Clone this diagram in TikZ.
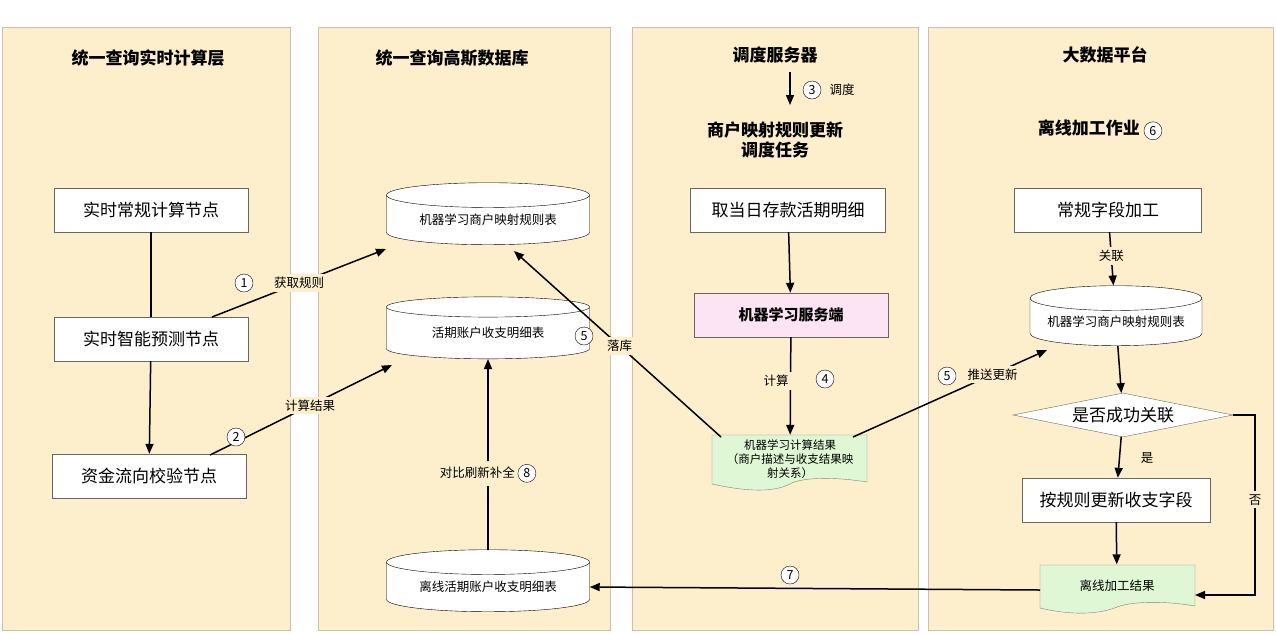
\documentclass[tikz,border=0pt]{standalone}
\usepackage{fontspec}
\setmainfont{Noto Sans CJK SC}
\usetikzlibrary{shapes.geometric,arrows.meta}
\definecolor{lane}{HTML}{FDEFCB}
\definecolor{laneb}{HTML}{C8C0B0}
\definecolor{pinkf}{HTML}{FCE4F4}
\definecolor{greenf}{HTML}{DFF7D4}
\begin{document}
\begin{tikzpicture}[x=1pt,y=-1pt,
  lanebox/.style={fill=lane,draw=laneb,line width=0.8pt},
  title/.style={font=\fontsize{17}{20}\selectfont\bfseries,align=center},
  box/.style={draw=black!60,fill=white,minimum width=194pt,minimum height=44pt,font=\fontsize{17}{20}\selectfont},
  db/.style={cylinder,shape border rotate=90,aspect=0.18,draw=black,fill=white,minimum width=203pt,minimum height=62pt,font=\fontsize{12.5}{14}\selectfont,inner sep=0pt},
  lbl/.style={font=\fontsize{12.5}{14}\selectfont,fill=lane,inner sep=3pt},
  num/.style={circle,draw,fill=white,inner sep=0.5pt,minimum size=18pt,font=\fontsize{12.5}{14}\selectfont},
  arr/.style={-{Triangle[length=10pt,width=8pt]},line width=1.5pt},
  ln/.style={line width=1.5pt}]
\useasboundingbox (0,0) rectangle (1276,633);
\fill[white] (0,0) rectangle (1276,633);
\draw[lanebox] (2,27) rectangle (290,630);
\draw[lanebox] (318,27) rectangle (610,630);
\draw[lanebox] (632,27) rectangle (918,630);
\draw[lanebox] (928,27) rectangle (1273,630);
\node[title] (t1) at (148,58) {统一查询实时计算层};
\node[title] (t2) at (452,58) {统一查询高斯数据库};
\node[title] (t3) at (775,55) {调度服务器};
\node[title] (t4) at (1105,55) {大数据平台};
\node[title] (t5) at (775,140) {商户映射规则更新\\调度任务};
\node[title] (t6) at (1100,130) {离线加工作业 \tikz[baseline=-4pt]\node[num,font=\fontsize{12.5}{14}\selectfont\mdseries]{6};};
% lane 1
\node[box] (n1) at (151,210) {实时常规计算节点};
\node[box] (n2) at (151,339) {实时智能预测节点};
\node[box] (n3) at (149,476) {资金流向校验节点};
% lane 2
\node[db] (d1) at (488,220) {机器学习商户映射规则表};
\node[db] (d2) at (488,333) {活期账户收支明细表};
\node[db] (d3) at (488,587) {离线活期账户收支明细表};
% lane 3
\coordinate (s3a) at (790,72);
\coordinate (s3b) at (790,105);
\node[box,minimum width=195pt] (m1) at (788,210) {取当日存款活期明细};
\node[box,fill=pinkf,font=\fontsize{15}{18}\selectfont\bfseries] (m2) at (791,315) {机器学习服务端};
\node[minimum width=155pt,minimum height=46pt,inner sep=0pt] (m3) at (790,458) {};
\draw[black!50,fill=greenf] (712,435) -- (867,435) -- (867,482) .. controls (830,476) and (800,478) .. (790,484) .. controls (770,494) and (740,490) .. (712,484) -- cycle;
% lane 4
\node[box,minimum width=187pt] (b1) at (1108,210) {常规字段加工};
\node[db,minimum width=172pt,minimum height=60pt] (d4) at (1116,322) {机器学习商户映射规则表};
\node[diamond,draw=black!60,fill=white,aspect=5,minimum width=220pt,minimum height=44pt,inner sep=0pt,font=\fontsize{17}{20}\selectfont] (dm) at (1123,415) {是否成功关联};
\node[box,minimum width=188pt] (b2) at (1116,500) {按规则更新收支字段};
\node[minimum width=155pt,minimum height=45pt,inner sep=0pt] (b3) at (1117,587) {};
\draw[black!50,fill=greenf] (1040,565) -- (1195,565) -- (1195,606) .. controls (1160,600) and (1130,602) .. (1117,607) .. controls (1095,616) and (1065,614) .. (1040,608) -- cycle;
\node[font=\fontsize{12.5}{14}\selectfont] at (1117,586) {离线加工结果};
% coordinates for slanted edges
\coordinate (e1a) at (212,317);
\coordinate (e1b) at (386,249);
\coordinate (e2a) at (210,455);
\coordinate (e2b) at (392,365);
\coordinate (e5a) at (721,437);
\coordinate (e5b) at (514,251);
\coordinate (e6a) at (853,437);
\coordinate (e6b) at (1047,350);
% edges lane 1
\draw[ln] (n1) -- (n2);
\draw[arr] (n2) -- (n3);
\draw[arr] (e1a) -- node[lbl,pos=0.5]{获取规则} (e1b);
\node[num] at (244,283) {1};
\draw[arr] (e2a) -- node[lbl,pos=0.55]{计算结果} (e2b);
\node[num] at (236,437) {2};
% lane 2
\draw[arr] (d3.north) -- node[lbl,pos=0.4]{对比刷新补全 \tikz[baseline=-4pt]\node[num]{8};} (d2.south);
% lane 3
\draw[arr] (s3a) -- (s3b);
\node[num] at (812,90) {3};
\node[font=\fontsize{12.5}{14}\selectfont] at (842,90) {调度};
\draw[arr] (m1) -- (m2);
\draw[arr] (m2) -- node[lbl,pos=0.45]{计算\hspace{22pt}\phantom{0}} (m3);
\node[num] at (825,379) {4};
\draw[arr] (e5a) -- node[lbl,pos=0.49]{落库} (e5b);
\node[num] at (584,336) {5};
\draw[arr] (e6a) -- node[lbl,pos=0.72]{推送更新} (e6b);
\node[num] at (947,376) {5};
\node[font=\fontsize{11.5}{14}\selectfont,align=center] at (790,459) {机器学习计算结果\\（商户描述与收支结果映\\射关系）};
% lane 4
\draw[arr] (b1) -- node[lbl,pos=0.45]{关联} (d4);
\draw[arr] (d4) -- (dm);
\draw[arr] (dm) -- (b2);
\node[font=\fontsize{12.5}{14}\selectfont] at (1147,458) {是};
\draw[arr] (b2) -- (b3);
\draw[arr] (dm.east) -- (1255,415) -- node[lbl,pos=0.47]{否} (1255,595) -- (1195,595);
\draw[arr] (1040,590) -- (d3.east);
\node[num] at (790,575) {7};
\end{tikzpicture}
\end{document}
